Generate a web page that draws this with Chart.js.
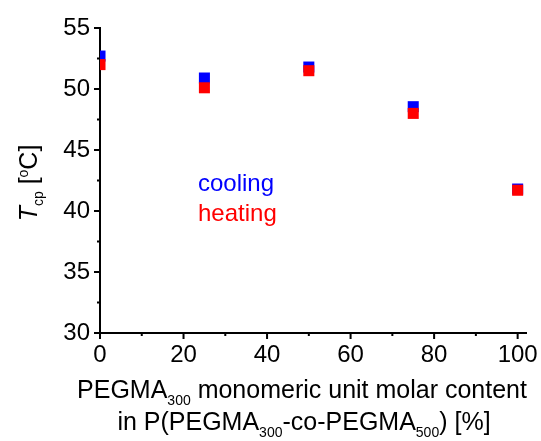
<!DOCTYPE html>
<html>
<head>
<meta charset="utf-8">
<script src="https://cdn.jsdelivr.net/npm/chart.js@4.4.1/dist/chart.umd.min.js"></script>
<style>
  html, body { margin: 0; padding: 0; background: #fff; }
  #wrap { width: 541px; height: 441px; }
</style>
</head>
<body>
<div id="wrap"><canvas id="c" width="541" height="441"></canvas></div>
<script>
// --- dados ---
const molarContent = [0, 25, 50, 75, 100];
const tcpCooling = [52.7, 50.9, 51.8, 48.55, 41.8];
const tcpHeating = [52.0, 50.1, 51.5, 48.0, 41.7];
const xMajorTicks = [0, 20, 40, 60, 80, 100];
const xMinorTicks = [10, 30, 50, 70, 90];
const yMajorTicks = [30, 35, 40, 45, 50, 55];
const yMinorTicks = [32.5, 37.5, 42.5, 47.5, 52.5];

const FONT = "'Liberation Sans', Arial, sans-serif";
const FS_TICK = 24;
const FS_TITLE = 25;

const toPoints = ys => molarContent.map((x, i) => ({ x: x, y: ys[i] }));

// desenha ticks menores/maiores e os títulos com sub/sobrescrito
const decorPlugin = {
    id: 'decor',
    afterDraw(chart) {
        const ctx = chart.ctx;
        const xs = chart.scales.x, ys = chart.scales.y;
        const a = chart.chartArea;
        ctx.save();
        ctx.strokeStyle = '#000';
        ctx.lineWidth = 2;
        ctx.beginPath();
        xMajorTicks.forEach(v => { const p = xs.getPixelForValue(v); ctx.moveTo(p, a.bottom); ctx.lineTo(p, a.bottom + 6); });
        xMinorTicks.forEach(v => { const p = xs.getPixelForValue(v); ctx.moveTo(p, a.bottom); ctx.lineTo(p, a.bottom + 3); });
        yMajorTicks.forEach(v => { const p = ys.getPixelForValue(v); ctx.moveTo(a.left, p); ctx.lineTo(a.left - 6, p); });
        yMinorTicks.forEach(v => { const p = ys.getPixelForValue(v); ctx.moveTo(a.left, p); ctx.lineTo(a.left - 3, p); });
        ctx.stroke();

        // textos com partes sub/sobrescritas
        const drawRich = (parts, cx, cy) => {
            let w = 0;
            parts.forEach(p => { ctx.font = p.f; w += ctx.measureText(p.t).width; });
            let x = cx - w / 2;
            parts.forEach(p => {
                ctx.font = p.f;
                ctx.fillText(p.t, x, cy + (p.dy || 0));
                x += ctx.measureText(p.t).width;
            });
        };
        const big = FS_TITLE + 'px ' + FONT;
        const small = '14px ' + FONT;
        ctx.fillStyle = '#000';
        ctx.textBaseline = 'alphabetic';
        ctx.textAlign = 'left';
        drawRich([
            { t: 'PEGMA', f: big }, { t: '300', f: small, dy: 7 },
            { t: ' monomeric unit molar content', f: big }
        ], 302, 398);
        drawRich([
            { t: 'in P(PEGMA', f: big }, { t: '300', f: small, dy: 7 },
            { t: '-co-PEGMA', f: big }, { t: '500', f: small, dy: 7 },
            { t: ') [%]', f: big }
        ], 304, 430);

        // eixo y rotacionado
        ctx.save();
        ctx.translate(37, 183);
        ctx.rotate(-Math.PI / 2);
        drawRich([
            { t: 'T', f: 'italic ' + big }, { t: 'cp', f: small, dy: 6 },
            { t: ' [', f: big }, { t: 'o', f: small, dy: -9 }, { t: 'C]', f: big }
        ], 0, 0);
        ctx.restore();

        // legenda em texto
        ctx.font = FS_TICK + 'px ' + FONT;
        ctx.fillStyle = '#0000ff';
        ctx.fillText('cooling', 198, 191);
        ctx.fillStyle = '#ff0000';
        ctx.fillText('heating', 198, 221);
        ctx.restore();
    }
};

new Chart(document.getElementById('c'), {
    type: 'scatter',
    data: {
        datasets: [
            { label: 'heating', data: toPoints(tcpHeating), backgroundColor: '#ff0000', borderWidth: 0,
              pointStyle: 'rect', pointRadius: 7.8, pointHoverRadius: 7.8, order: 0, clip: 0 },
            { label: 'cooling', data: toPoints(tcpCooling), backgroundColor: '#0000ff', borderWidth: 0,
              pointStyle: 'rect', pointRadius: 7.8, pointHoverRadius: 7.8, order: 1, clip: 0 }
        ]
    },
    options: {
        responsive: false,
        animation: false,
        events: [],
        layout: { padding: { top: 28, right: 15, left: 0, bottom: 0 } },
        plugins: { legend: { display: false }, tooltip: { enabled: false } },
        scales: {
            x: {
                type: 'linear', min: 0, max: 102,
                afterFit: s => { s.height = 108; s.paddingLeft = 0; s.paddingRight = 0; },
                grid: { display: false, drawTicks: false },
                border: { display: true, color: '#000', width: 2 },
                ticks: { stepSize: 20, includeBounds: false, padding: 8, color: '#000', maxRotation: 0,
                         font: { family: FONT, size: FS_TICK } }
            },
            y: {
                type: 'linear', min: 30, max: 55,
                afterFit: s => { s.width = 100; s.paddingTop = 0; s.paddingBottom = 0; },
                grid: { display: false, drawTicks: false },
                border: { display: true, color: '#000', width: 2 },
                ticks: { stepSize: 5, padding: 10, color: '#000', font: { family: FONT, size: FS_TICK } }
            }
        }
    },
    plugins: [decorPlugin]
});
</script>
</body>
</html>
